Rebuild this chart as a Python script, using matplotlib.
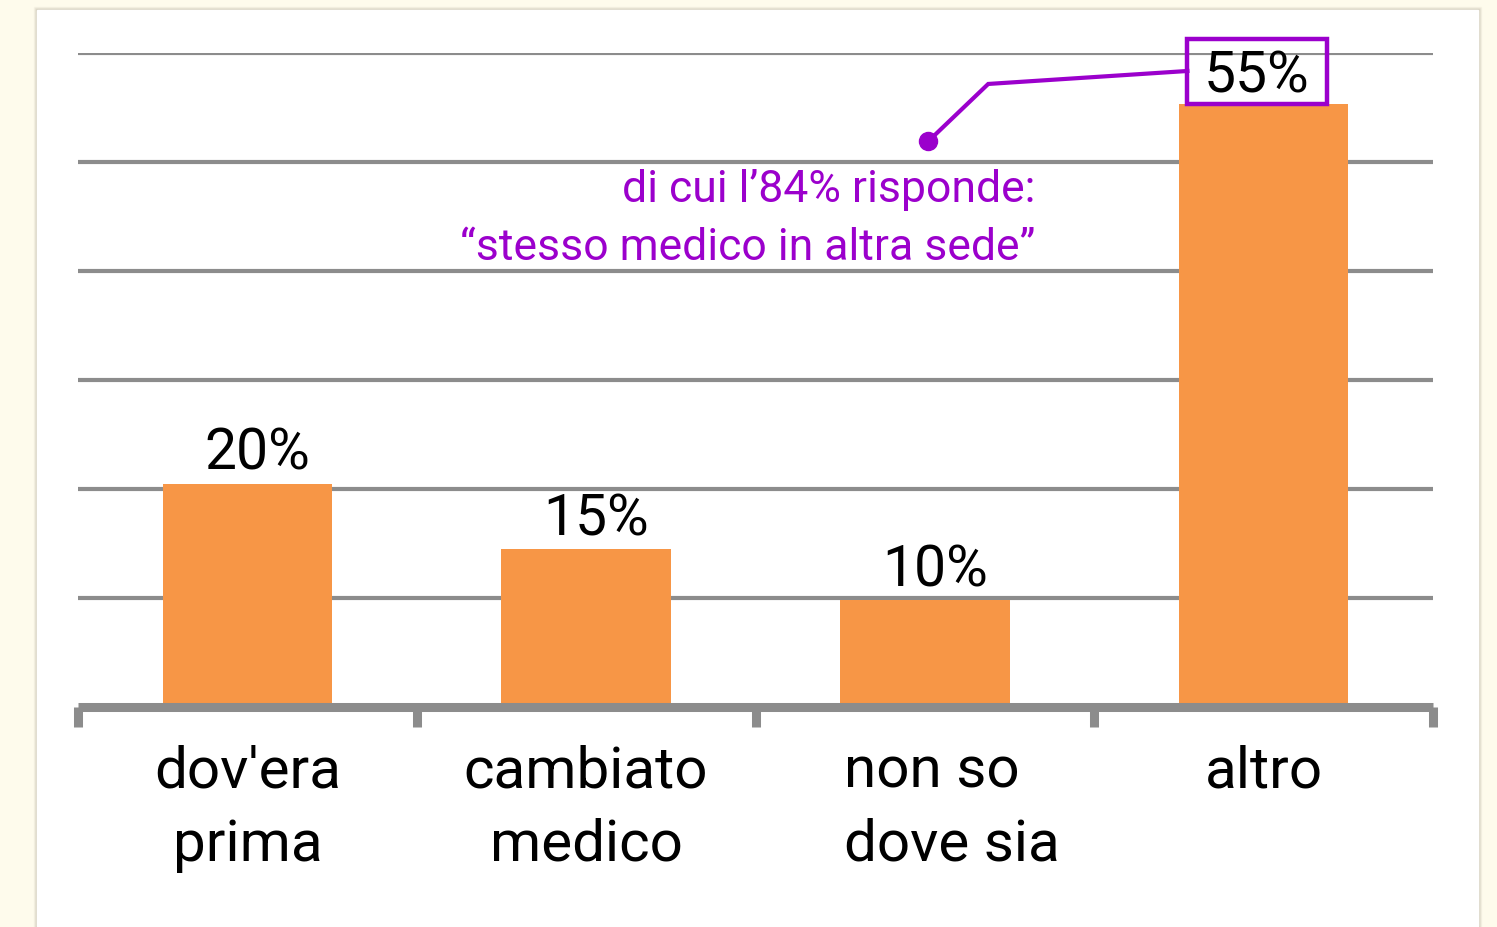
import matplotlib
matplotlib.use("Agg")
import matplotlib.pyplot as plt
from matplotlib.patches import Rectangle

# dati
categorie = ["dov'era\nprima", "cambiato\nmedico", "non so\ndove sia", "altro"]
valori = [20.5, 14.5, 9.8, 55.3]
etichette = ["20%", "15%", "10%", "55%"]
nota = "di cui l\u201984% risponde:\n\u201cstesso medico in altra sede\u201d"

ARANCIO = "#F79646"
GRIGIO = "#8C8C8C"
VIOLA = "#9B00CC"

plt.rcParams["font.family"] = ["Roboto", "DejaVu Sans"]

W, H = 1497, 927
fig = plt.figure(figsize=(W / 100, H / 100), dpi=100, facecolor="#FEFBEC")

# pannello bianco con leggera ombra
for i, a in enumerate([0.05, 0.08, 0.12]):
    d = 3 - i
    fig.patches.append(Rectangle(((37 - d) / W, 0), (1441 + 2 * d) / W, (917 + d) / H,
                                 transform=fig.transFigure, color="#8a7f6a", alpha=a, zorder=-3))
fig.patches.append(Rectangle((37 / W, 0), 1441 / W, 917 / H, transform=fig.transFigure,
                             color="white", zorder=-2))

ax = fig.add_axes([78 / W, (H - 707) / H, (1433 - 78) / W, (707 - 53) / H])
ax.set_zorder(1)
ax.set_facecolor("none")

x = list(range(len(categorie)))
ax.bar(x, valori, width=0.5, color=ARANCIO, zorder=2)
ax.set_xlim(-0.5, len(categorie) - 0.5)
ax.set_ylim(0, 60)

# griglia orizzontale
for y in range(10, 61, 10):
    ax.axhline(y, color=GRIGIO, lw=3.0, zorder=1)

for s in ax.spines.values():
    s.set_visible(False)
ax.set_yticks([])
ax.set_xticks([])

# asse di base con tacche
ax.plot([-0.5, len(categorie) - 0.5], [0, 0], color=GRIGIO, lw=6.5, zorder=3,
        solid_capstyle="butt", clip_on=False)
for t in [i - 0.5 for i in range(len(categorie) + 1)]:
    ax.plot([t, t], [0, -1.8], color=GRIGIO, lw=6.5, zorder=3,
            solid_capstyle="butt", clip_on=False)

# etichette categoria ("non so / dove sia" allineata a sinistra come nell'originale)
for xi, lab in zip(x, categorie):
    if lab.startswith("non so"):
        ax.text(xi - 0.24, -3.4, lab, ha="left", va="top", fontsize=42,
                linespacing=1.43, multialignment="left")
    else:
        ax.text(xi, -3.4, lab, ha="center", va="top", fontsize=42, linespacing=1.43)

# etichette valore (l'ultima sta dentro il riquadro)
for xi, v, lab in zip(x[:-1], valori[:-1], etichette[:-1]):
    ax.text(xi + 0.03, v + 0.15, lab, ha="center", va="bottom", fontsize=41, zorder=4)
ax.text(x[-1] - 0.02, 57.8, etichette[-1], ha="center", va="center", fontsize=41,
        zorder=6)

# riquadro e richiamo sul 55%
ax.add_patch(Rectangle((2.775, 55.3), 0.413, 6.0, fill=False, edgecolor=VIOLA,
                       lw=3.2, zorder=5, clip_on=False))
ax.plot([2.775, 2.187, 2.01], [58.35, 57.16, 51.9], color=VIOLA, lw=3, zorder=5,
        solid_joinstyle="miter", clip_on=False)
ax.plot([2.01], [51.9], "o", color=VIOLA, ms=13, zorder=5)
ax.text(2.326, 49.4, nota, ha="right", va="top", fontsize=32, color=VIOLA,
        linespacing=1.5, zorder=5)

fig.savefig("out.png", dpi=100, facecolor=fig.get_facecolor())
